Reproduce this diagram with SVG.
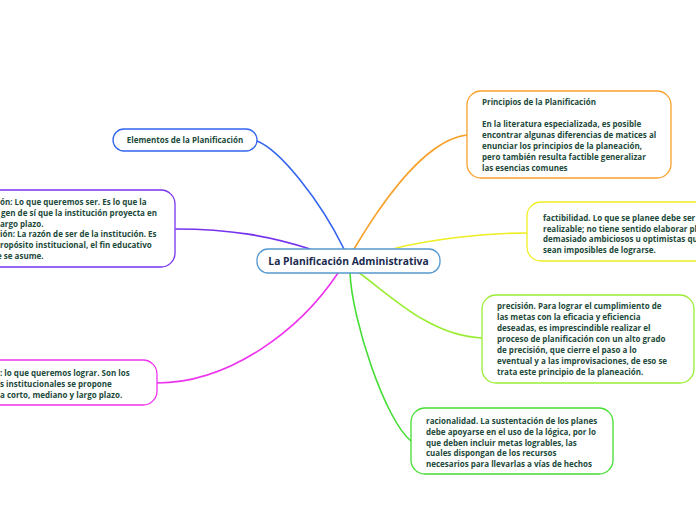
<svg xmlns="http://www.w3.org/2000/svg" width="696" height="520" viewBox="0 0 696 520">
<style>
.t{font-family:"Open Sans","Noto Sans","Liberation Sans",sans-serif;font-weight:bold;font-size:8px;fill:#1c4a3a}
.c{font-family:"Open Sans","Noto Sans","Liberation Sans",sans-serif;font-weight:bold;font-size:10.3px;fill:#1a2b4f}
.n{fill:#ffffff;stroke-width:1.3}
.e{fill:none;stroke-width:1.6;stroke-linecap:round}
</style>
<rect width="696" height="520" fill="#ffffff"/>
<g id="connectors">
<path class="e" stroke="#3366ee" d="M257,141 C280,150 320,200 344,249"/>
<path class="e" stroke="#f7a12b" d="M354,249 C370,222 420,140 467,135"/>
<path class="e" stroke="#eeee22" d="M396,248 C430,240 480,233 527,233"/>
<path class="e" stroke="#7733ee" d="M176,229 C230,229 270,236 310,249"/>
<path class="e" stroke="#ee33ee" d="M338,273 C300,330 230,383 157,383"/>
<path class="e" stroke="#99ee33" d="M358,272 C390,295 430,336 482,338"/>
<path class="e" stroke="#44dd33" d="M350,273 C352,320 385,420 411,441"/>
</g>
<g id="central">
<rect class="n" x="257" y="249" width="183" height="24" rx="11" stroke="#5599d0" fill="#f8fbff"/>
<text class="c" x="348.5" y="265" text-anchor="middle">La Planificación Administrativa</text>
</g>
<g id="elementos">
<rect class="n" x="113" y="129" width="144" height="22" rx="11" stroke="#3366ee"/>
<text class="t" x="185" y="143" text-anchor="middle">Elementos de la Planificación</text>
</g>
<g id="principios">
<rect class="n" x="467" y="91" width="204" height="87" rx="14" stroke="#f7a12b"/>
<text class="t" x="482" y="105">Principios de la Planificación</text>
<text class="t" x="482" y="127">En la literatura especializada, es posible</text>
<text class="t" x="482" y="138">encontrar algunas diferencias de matices al</text>
<text class="t" x="482" y="149">enunciar los principios de la planeación,</text>
<text class="t" x="482" y="160">pero también resulta factible generalizar</text>
<text class="t" x="482" y="171">las esencias comunes</text>
</g>
<g id="factibilidad">
<rect class="n" x="527" y="202" width="220" height="59" rx="14" stroke="#eeee22"/>
<text class="t" x="543" y="221">factibilidad. Lo que se planee debe ser</text>
<text class="t" x="543" y="231.7">realizable; no tiene sentido elaborar pl</text>
<text class="t" x="543" y="242.3">demasiado ambiciosos u optimistas qu</text>
<text class="t" x="543" y="253">sean imposibles de lograrse.</text>
</g>
<g id="precision">
<rect class="n" x="482" y="295" width="212" height="88" rx="14" stroke="#99ee33"/>
<text class="t" x="497" y="308.5">precisión. Para lograr el cumplimiento de</text>
<text class="t" x="497" y="319.5">las metas con la eficacia y eficiencia</text>
<text class="t" x="497" y="330.5">deseadas, es imprescindible realizar el</text>
<text class="t" x="497" y="341.5">proceso de planificación con un alto grado</text>
<text class="t" x="497" y="352.5">de precisión, que cierre el paso a lo</text>
<text class="t" x="497" y="363.5">eventual y a las improvisaciones, de eso se</text>
<text class="t" x="497" y="374.5">trata este principio de la planeación.</text>
</g>
<g id="racionalidad">
<rect class="n" x="411" y="408" width="202" height="66" rx="14" stroke="#44dd33"/>
<text class="t" x="426" y="423.5">racionalidad. La sustentación de los planes</text>
<text class="t" x="426" y="434.5">debe apoyarse en el uso de la lógica, por lo</text>
<text class="t" x="426" y="445.5">que deben incluir metas logrables, las</text>
<text class="t" x="426" y="456">cuales dispongan de los recursos</text>
<text class="t" x="426" y="466.5">necesarios para llevarlas a vías de hechos</text>
</g>
<g id="vision-mision">
<rect class="n" x="-30" y="190" width="205" height="77" rx="14" stroke="#7733ee"/>
<text class="t" x="0" y="204.5">ón: Lo que queremos ser. Es lo que la</text>
<text class="t" x="1" y="215.5">gen de sí que la institución proyecta en</text>
<text class="t" x="0" y="226.5">argo plazo.</text>
<text class="t" x="0" y="237">ión: La razón de ser de la institución. Es</text>
<text class="t" x="0" y="248">ropósito institucional, el fin educativo</text>
<text class="t" x="-3" y="259">e se asume.</text>
</g>
<g id="metas">
<rect class="n" x="-30" y="360" width="187" height="45" rx="14" stroke="#ee33ee"/>
<text class="t" x="0" y="376">: lo que queremos lograr. Son los</text>
<text class="t" x="0" y="387">s institucionales se propone</text>
<text class="t" x="0" y="398">a corto, mediano y largo plazo.</text>
</g>
</svg>
